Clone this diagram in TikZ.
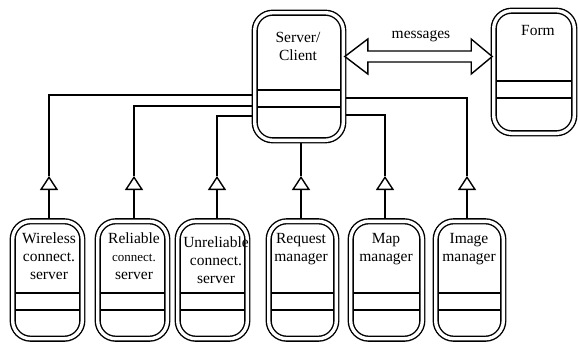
\documentclass[tikz,border=0pt]{standalone}
\usepackage{fontspec}
\setmainfont{Liberation Serif}
\usetikzlibrary{arrows.meta,backgrounds,calc}
\begin{document}
\begin{tikzpicture}[x=1pt,y=-1pt,
  cls/.style={inner sep=0pt, minimum height=117pt, minimum width=69.2pt},
  clsline/.style={draw, rounded corners=18pt, line width=1.4pt, double=white, double distance=3.4pt},
  lbl/.style={inner sep=0pt, align=center, anchor=north, font=\fontsize{15.5}{18}\selectfont},
  comp/.style={line width=1.4pt},
  conn/.style={line width=1.4pt},
  gen/.style={line width=1.4pt, -{Triangle[open, length=14pt, width=18pt]}},
  msg/.style={line width=1.4pt, fill=white, line join=miter}
]
\useasboundingbox (0,0) rectangle (578,343);
% classes
\node[cls, minimum width=88.2pt, minimum height=127.2pt] (srv) at (299,76.5) {};
\node[cls, minimum width=80.2pt, minimum height=122.2pt] (form) at (534,72) {};
\node[cls] (wire) at (47.5,280) {};
\node[cls] (rel) at (132.5,280) {};
\node[cls] (unrel) at (212.5,280) {};
\node[cls, minimum width=67.2pt] (req) at (302.5,280) {};
\node[cls, minimum width=71.2pt] (map) at (386.5,280) {};
\node[cls, minimum width=67.2pt] (img) at (469.5,280) {};
\foreach \n in {srv, form, wire, rel, unrel, req, map, img} {
  \draw[clsline] (\n.north west) rectangle (\n.south east);
}
% labels
\node[lbl] (srvt) at (298,32) {Server/\\Client};
\node[lbl] (formt) at (538,25) {Form};
\node[lbl] (wiret) at (49,233) {Wireless\\connect.\\server};
\node[lbl] (relt) at (134,233) {Reliable\\\fontsize{13}{16}\selectfont connect.\\server};
\node[lbl] (unrelt) at (216,237) {Unreliable\\connect.\\server};
\node[lbl] (reqt) at (301,233) {Request\\manager};
\node[lbl] (mapt) at (386,233) {Map\\manager};
\node[lbl] (imgt) at (469,233) {Image\\manager};
\node[anchor=base, inner sep=0pt, font=\fontsize{15.5}{18}\selectfont] (msgt) at (421,38) {messages};
% arrow tips positions
\coordinate (t1) at (49,176);
\coordinate (t2) at (134,176);
\coordinate (t3) at (217,176);
\coordinate (t4) at (301,176);
\coordinate (t5) at (385,176);
\coordinate (t6) at (467,176);
\begin{scope}[on background layer]
  \foreach \n/\a/\b in {srv/90/107, form/81/98, wire/293/310, rel/293/310, unrel/293/310, req/293/310, map/293/310, img/293/310} {
    \draw[comp] (\n.west |- 0,\a) -- (\n.east |- 0,\a);
    \draw[comp] (\n.west |- 0,\b) -- (\n.east |- 0,\b);
  }
  \draw[conn] (srv.west |- 0,95) -| (t1);
  \draw[conn] (srv.west |- 0,106) -| (t2);
  \draw[conn] (srv.west |- 0,116) -| (t3);
  \draw[conn] (srv.south -| t4) -- (t4);
  \draw[conn] (srv.east |- 0,115) -| (t5);
  \draw[conn] (srv.east |- 0,98) -| (t6);
  \draw[gen] (wire.north -| t1) -- (t1);
  \draw[gen] (rel.north -| t2) -- (t2);
  \draw[gen] (unrel.north -| t3) -- (t3);
  \draw[gen] (req.north -| t4) -- (t4);
  \draw[gen] (map.north -| t5) -- (t5);
  \draw[gen] (img.north -| t6) -- (t6);
\end{scope}
% messages double arrow
\path (srv.east |- 0,56.5) ++(1.5,0) coordinate (aL);
\path (form.west |- 0,56.5) ++(-1.5,0) coordinate (aR);
\draw[msg] (aL) -- ++(23,-17.5) -- ++(0,12) -- ($(aR)+(-21,-5.5)$) -- ++(0,-12)
  -- (aR) -- ++(-21,17.5) -- ++(0,-12) -- ($(aL)+(23,5.5)$) -- ++(0,12) -- cycle;
\end{tikzpicture}
\end{document}
